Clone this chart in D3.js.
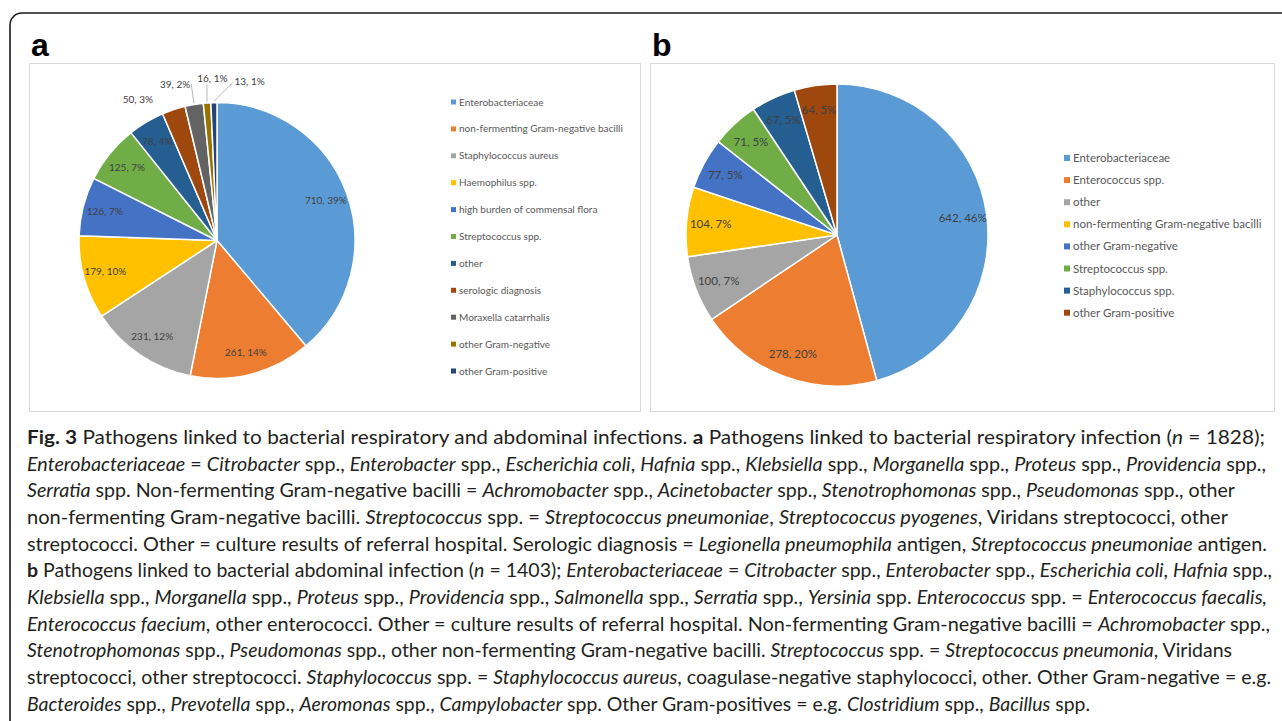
<!DOCTYPE html>
<html>
<head>
<meta charset="utf-8">
<script src="https://cdn.jsdelivr.net/npm/d3@7"></script>
<style>
  body { margin: 0; background: #fff; }
  svg { display: block; }
</style>
</head>
<body>
<svg id="main" width="1282" height="721"></svg>
<script>
// panel a: respiratory infection
const catsA = ["Enterobacteriaceae", "non-fermenting Gram-negative bacilli", "Staphylococcus aureus",
  "Haemophilus spp.", "high burden of commensal flora", "Streptococcus spp.", "other",
  "serologic diagnosis", "Moraxella catarrhalis", "other Gram-negative", "other Gram-positive"];
const valsA = [710, 261, 231, 179, 126, 125, 78, 50, 39, 16, 13];
const pctA = [39, 14, 12, 10, 7, 7, 4, 3, 2, 1, 1];

// panel b: abdominal infection
const catsB = ["Enterobacteriaceae", "Enterococcus spp.", "other", "non-fermenting Gram-negative bacilli",
  "other Gram-negative", "Streptococcus spp.", "Staphylococcus spp.", "other Gram-positive"];
const valsB = [642, 278, 100, 104, 77, 71, 67, 64];
const pctB = [46, 20, 7, 7, 5, 5, 5, 5];

const palette = ["#5b9bd5", "#ed7d31", "#a5a5a5", "#ffc000", "#4472c4", "#70ad47",
  "#255e91", "#9e480e", "#636363", "#997300", "#264478"];

const captionLines = [
  "**Fig. 3** Pathogens linked to bacterial respiratory and abdominal infections. **a** Pathogens linked to bacterial respiratory infection (*n* = 1828);",
  "*Enterobacteriaceae* = *Citrobacter* spp., *Enterobacter* spp., *Escherichia coli*, *Hafnia* spp., *Klebsiella* spp., *Morganella* spp., *Proteus* spp., *Providencia* spp.,",
  "*Serratia* spp. Non-fermenting Gram-negative bacilli = *Achromobacter* spp., *Acinetobacter* spp., *Stenotrophomonas* spp., *Pseudomonas* spp., other",
  "non-fermenting Gram-negative bacilli. *Streptococcus* spp. = *Streptococcus pneumoniae*, *Streptococcus pyogenes*, Viridans streptococci, other",
  "streptococci. Other = culture results of referral hospital. Serologic diagnosis = *Legionella pneumophila* antigen, *Streptococcus pneumoniae* antigen.",
  "**b** Pathogens linked to bacterial abdominal infection (*n* = 1403); *Enterobacteriaceae* = *Citrobacter* spp., *Enterobacter* spp., *Escherichia coli*, *Hafnia* spp.,",
  "*Klebsiella* spp., *Morganella* spp., *Proteus* spp., *Providencia* spp., *Salmonella* spp., *Serratia* spp., *Yersinia* spp. *Enterococcus* spp. = *Enterococcus faecalis,*",
  "*Enterococcus faecium*, other enterococci. Other = culture results of referral hospital. Non-fermenting Gram-negative bacilli = *Achromobacter* spp.,",
  "*Stenotrophomonas* spp., *Pseudomonas* spp., other non-fermenting Gram-negative bacilli. *Streptococcus* spp. = *Streptococcus pneumonia*, Viridans",
  "streptococci, other streptococci. *Staphylococcus* spp. = *Staphylococcus aureus*, coagulase-negative staphylococci, other. Other Gram-negative = e.g.",
  "*Bacteroides* spp., *Prevotella* spp., *Aeromonas* spp., *Campylobacter* spp. Other Gram-positives = e.g. *Clostridium* spp., *Bacillus* spp."
];
// where each printed caption line ends (px), so the lines break as in the figure
const captionEnds = [1265, 1266, 1235, 1228, 1267, 1272, 1267, 1270, 1232, 1271, 1090];

const svg = d3.select("#main");
const FONT = "Lato, 'DejaVu Sans', sans-serif";

// outer frame, runs off the right and bottom edge
svg.append("rect")
  .attr("x", 10).attr("y", 13)
  .attr("width", 1400).attr("height", 900)
  .attr("rx", 12)
  .attr("fill", "none")
  .attr("stroke", "#1a1a1a")
  .attr("stroke-width", 1.6);

const drawPanel = (opt) => {
  const g = svg.append("g");

  g.append("text")
    .attr("x", opt.box[0] + 2).attr("y", 56)
    .attr("font-family", "'Liberation Sans', Arial, sans-serif")
    .attr("font-weight", "bold")
    .attr("font-size", 32)
    .attr("fill", "#000")
    .text(opt.letter);

  g.append("rect")
    .attr("x", opt.box[0] + 0.5).attr("y", opt.box[1] + 0.5)
    .attr("width", opt.box[2]).attr("height", opt.box[3])
    .attr("fill", "#fff")
    .attr("stroke", "#d9d9d9");

  const pie = d3.pie().sort(null).value(d => d.v);
  const data = pie(opt.cats.map((c, i) => ({c: c, v: opt.vals[i], p: opt.pct[i], i: i})));
  const total = d3.sum(opt.vals);
  const arc = d3.arc().innerRadius(0).outerRadius(opt.r);

  const pg = g.append("g").attr("transform", `translate(${opt.cx},${opt.cy})`);
  pg.selectAll("path")
    .data(data)
    .enter()
    .append("path")
      .attr("d", arc)
      .attr("fill", d => palette[d.data.i])
      .attr("stroke", "#fff")
      .attr("stroke-width", 1.5)
      .attr("stroke-linejoin", "round");

  const mid = d => (d.startAngle + d.endAngle) / 2;
  const inside = data.filter(d => d.data.v / total >= 0.03);
  const outside = data.filter(d => d.data.v / total < 0.03);

  pg.selectAll("text.in")
    .data(inside)
    .enter()
    .append("text")
      .attr("class", "in")
      .attr("x", d => Math.sin(mid(d)) * opt.r * opt.lr)
      .attr("y", d => -Math.cos(mid(d)) * opt.r * opt.lr)
      .attr("text-anchor", "middle")
      .attr("dy", "0.35em")
      .attr("font-family", FONT)
      .attr("font-size", opt.fs)
      .attr("fill", "#404040")
      .text(d => `${d.data.v}, ${d.data.p}%`);

  if (outside.length) {
    // outer labels, spread sideways so they do not overlap
    const R2 = opt.r + 24;
    const labs = outside.map(d => {
      const t = pg.append("text")
        .attr("text-anchor", "middle")
        .attr("dy", "0.35em")
        .attr("font-family", FONT)
        .attr("font-size", opt.fs)
        .attr("fill", "#404040")
        .text(`${d.data.v}, ${d.data.p}%`);
      return {d: d, t: t, w: t.node().getComputedTextLength(), x: Math.sin(mid(d)) * R2};
    });
    labs.sort((a, b) => a.x - b.x);
    const meanX = d3.mean(labs, l => l.x);
    let pos = [0];
    for (let k = 1; k < labs.length; k++) {
      pos.push(pos[k - 1] + (labs[k - 1].w + labs[k].w) / 2 + 7);
    }
    const shift = meanX - d3.mean(pos);
    labs.forEach((l, k) => {
      l.x = pos[k] + shift;
      const dx = Math.min(Math.abs(l.x), R2 - 1);
      l.y = -Math.sqrt(R2 * R2 - dx * dx);
      l.t.attr("x", l.x).attr("y", l.y);

      if (l.d.data.v / total < 0.025) {
        const ax = Math.sin(mid(l.d)) * (opt.r + 1);
        const ay = -Math.cos(mid(l.d)) * (opt.r + 1);
        let px, py;
        if (ax > l.x + l.w / 2) { px = l.x + l.w / 2 + 1; py = l.y; }
        else if (ax < l.x - l.w / 2) { px = l.x - l.w / 2 - 1; py = l.y; }
        else { px = ax; py = l.y + 6; }
        pg.append("line")
          .attr("x1", ax).attr("y1", ay)
          .attr("x2", px).attr("y2", py)
          .attr("stroke", "#a6a6a6")
          .attr("stroke-width", 0.8);
      }
    });
  }

  // legend
  const lg = g.append("g");
  const rows = lg.selectAll("g")
    .data(opt.cats)
    .enter()
    .append("g")
      .attr("transform", (d, i) => `translate(${opt.lx},${opt.ly + i * opt.ldy})`);
  rows.append("rect")
    .attr("x", 0).attr("y", -opt.ms / 2)
    .attr("width", opt.ms).attr("height", opt.ms)
    .attr("fill", (d, i) => palette[i]);
  rows.append("text")
    .attr("x", opt.ms + 3)
    .attr("dy", "0.35em")
    .attr("font-family", FONT)
    .attr("font-size", opt.lfs)
    .attr("fill", "#595959")
    .text(d => d);
};

drawPanel({letter: "a", box: [29, 63, 611, 348], cats: catsA, vals: valsA, pct: pctA,
  cx: 217, cy: 240.5, r: 138, lr: 0.84, fs: 10, lx: 451, ly: 102, ldy: 26.9, ms: 5, lfs: 10});
drawPanel({letter: "b", box: [650, 63, 624, 348], cats: catsB, vals: valsB, pct: pctB,
  cx: 837, cy: 235, r: 151, lr: 0.84, fs: 11.5, lx: 1064, ly: 158, ldy: 22.1, ms: 6, lfs: 11.5});

// caption
const cap = svg.append("g");
const capText = cap.selectAll("text")
  .data(captionLines)
  .enter()
  .append("text")
    .attr("x", 27)
    .attr("y", (d, i) => 444 + i * 26.65)
    .attr("font-family", FONT)
    .attr("font-size", 18.3)
    .attr("fill", "#231f20");

capText.each(function(line, i) {
  const t = d3.select(this);
  line.split(/(\*\*[^*]+\*\*|\*[^*]+\*)/).filter(s => s.length).forEach(s => {
    const sp = t.append("tspan");
    if (s.startsWith("**")) sp.attr("font-weight", "bold").text(s.slice(2, -2));
    else if (s.startsWith("*")) sp.attr("font-style", "italic").text(s.slice(1, -1));
    else sp.text(s);
  });
  // squeeze or stretch the line to the printed width
  t.attr("textLength", captionEnds[i] - 27).attr("lengthAdjust", "spacingAndGlyphs");
});
</script>
</body>
</html>
